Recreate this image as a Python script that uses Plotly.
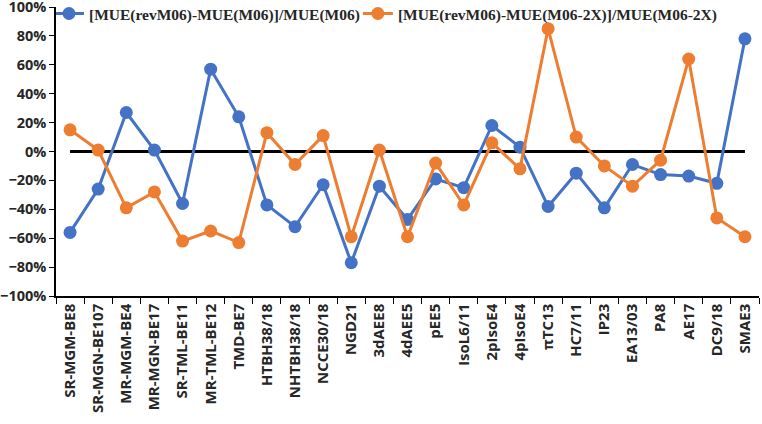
import plotly.graph_objects as go

categories = ["SR-MGM-BE8", "SR-MGN-BE107", "MR-MGM-BE4", "MR-MGN-BE17", "SR-TML-BE11",
              "MR-TML-BE12", "TMD-BE7", "HTBH38/18", "NHTBH38/18", "NCCE30/18", "NGD21",
              "3dAEE8", "4dAEE5", "pEE5", "IsoL6/11", "2pIsoE4", "4pIsoE4", "πTC13",
              "HC7/11", "IP23", "EA13/03", "PA8", "AE17", "DC9/18", "SMAE3"]

series1_name = "[MUE(revM06)-MUE(M06)]/MUE(M06)"
series1 = [-0.56, -0.26, 0.27, 0.01, -0.36, 0.57, 0.24, -0.37, -0.52, -0.23, -0.77,
           -0.24, -0.47, -0.19, -0.25, 0.18, 0.03, -0.38, -0.15, -0.39, -0.09, -0.16,
           -0.17, -0.22, 0.78]

series2_name = "[MUE(revM06)-MUE(M06-2X)]/MUE(M06-2X)"
series2 = [0.15, 0.01, -0.39, -0.28, -0.62, -0.55, -0.63, 0.13, -0.09, 0.11, -0.59,
           0.01, -0.59, -0.08, -0.37, 0.06, -0.12, 0.85, 0.10, -0.10, -0.24, -0.06,
           0.64, -0.46, -0.59]

ytick_values = [-1, -0.8, -0.6, -0.4, -0.2, 0, 0.2, 0.4, 0.6, 0.8, 1]

blue = "#4472C4"
orange = "#ED7D31"

fig = go.Figure()
fig.add_trace(go.Scatter(x=categories, y=series1, name=series1_name, mode="lines+markers",
                         line=dict(color=blue, width=3), marker=dict(color=blue, size=13)))
fig.add_trace(go.Scatter(x=categories, y=series2, name=series2_name, mode="lines+markers",
                         line=dict(color=orange, width=3), marker=dict(color=orange, size=13)))

fig.add_shape(type="line", xref="x", yref="y", x0=categories[0], x1=categories[-1],
              y0=0, y1=0, line=dict(color="black", width=3), layer="below")

xtickfont = dict(family="Open Sans, Noto Sans, sans-serif", size=15, color="#262626", weight="bold")
ytickfont = dict(family="Open Sans, Noto Sans, sans-serif", size=14.5, color="#262626", weight="bold")

fig.update_layout(
    width=762, height=424,
    margin=dict(l=56, r=3, t=7, b=128, autoexpand=False),
    paper_bgcolor="white", plot_bgcolor="white",
    showlegend=True,
    legend=dict(orientation="h", x=0, y=0.976, xanchor="left", yanchor="middle",
                indentation=-7,
                bgcolor="rgba(0,0,0,0)",
                font=dict(family="Liberation Serif, Times New Roman, serif", size=15.5,
                          color="#262626", weight="bold")),
    xaxis=dict(type="category", range=[-0.5, len(categories) - 0.5],
               showgrid=False, showline=True, linecolor="black", linewidth=1.5,
               ticks="outside", tickson="boundaries", ticklen=6, tickcolor="black",
               tickangle=-90, tickfont=xtickfont, zeroline=False, automargin=False,
               ticklabeloverflow="allow"),
    yaxis=dict(range=[-1, 1], tickvals=ytick_values,
               tickformat=".0%", showgrid=False, showline=True, linecolor="black", linewidth=1.5,
               ticks="outside", ticklen=5, tickcolor="black", tickfont=ytickfont, zeroline=False,
               automargin=False, ticklabeloverflow="allow"),
)

fig.write_html("out.html", config={"displayModeBar": False},
               post_script="document.body.style.margin='0';")
